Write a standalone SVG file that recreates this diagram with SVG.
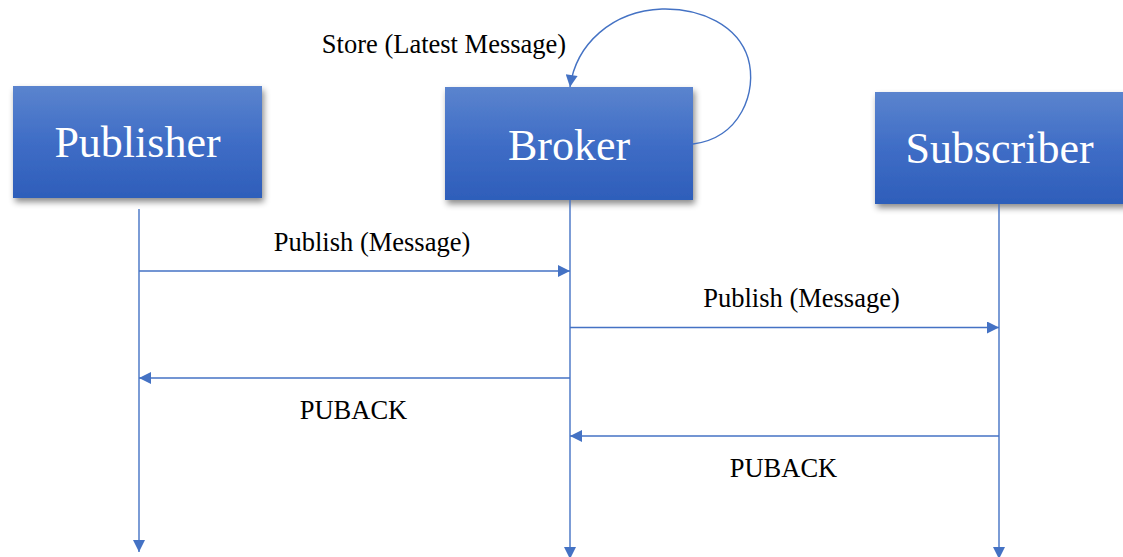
<svg xmlns="http://www.w3.org/2000/svg" width="1123" height="557" viewBox="0 0 1123 557">
  <style>
    .box { fill: url(#boxFill); filter: url(#shadow); }
    .title { font-family: "Liberation Serif", "Times New Roman", serif; font-size: 44px; fill: #ffffff; text-anchor: middle; }
    .label { font-family: "Liberation Serif", "Times New Roman", serif; font-size: 26.5px; fill: #000000; text-anchor: middle; }
    .line { stroke: #4472C4; stroke-width: 1.4; fill: none; }
    .msg { marker-end: url(#arrow); }
  </style>
  <defs>
    <linearGradient id="boxFill" x1="0" y1="0" x2="0" y2="1">
      <stop offset="0" stop-color="#5B84CE"/>
      <stop offset="0.5" stop-color="#3F6DC6"/>
      <stop offset="1" stop-color="#2E5EBA"/>
    </linearGradient>
    <filter id="shadow" x="-10%" y="-20%" width="125%" height="150%">
      <feDropShadow dx="2" dy="4" stdDeviation="3" flood-color="#000000" flood-opacity="0.45"/>
    </filter>
    <marker id="arrow" viewBox="0 0 10 10" refX="10" refY="5" markerUnits="userSpaceOnUse" markerWidth="14" markerHeight="12" orient="auto">
      <path d="M0,0 L10,5 L0,10 z" fill="#4472C4"/>
    </marker>
  </defs>

  <!-- participants -->
  <g id="publisher">
    <rect class="box" x="13" y="86" width="249" height="112"/>
    <text class="title" x="137.5" y="157">Publisher</text>
  </g>
  <g id="broker">
    <rect class="box" x="445" y="87" width="248" height="113"/>
    <text class="title" x="569" y="160">Broker</text>
  </g>
  <g id="subscriber">
    <rect class="box" x="875" y="92" width="252" height="112"/>
    <text class="title" x="999.5" y="163">Subscriber</text>
  </g>

  <!-- lifelines, messages and the broker's self-loop -->
  <g id="connectors">
    <line class="line msg" x1="139" y1="209" x2="139" y2="552"/>
    <line class="line msg" x1="570" y1="200" x2="570" y2="559"/>
    <line class="line msg" x1="999" y1="204" x2="999" y2="559"/>

    <line class="line msg" x1="139" y1="271" x2="570" y2="271"/>
    <line class="line msg" x1="570" y1="327.5" x2="999" y2="327.5"/>
    <line class="line msg" x1="570" y1="378" x2="139" y2="378"/>
    <line class="line msg" x1="999" y1="436" x2="570" y2="436"/>

    <path class="line msg" d="M693,144 C740,138 758,92 748,58 C738,26 702,8 662,9 C612,11 576,44 570,87"/>
  </g>

  <!-- message labels -->
  <g id="labels">
    <text class="label" x="444" y="53">Store (Latest Message)</text>
    <text class="label" x="372" y="251">Publish (Message)</text>
    <text class="label" x="801.5" y="307">Publish (Message)</text>
    <text class="label" x="353.5" y="419">PUBACK</text>
    <text class="label" x="783.5" y="477">PUBACK</text>
  </g>
</svg>
